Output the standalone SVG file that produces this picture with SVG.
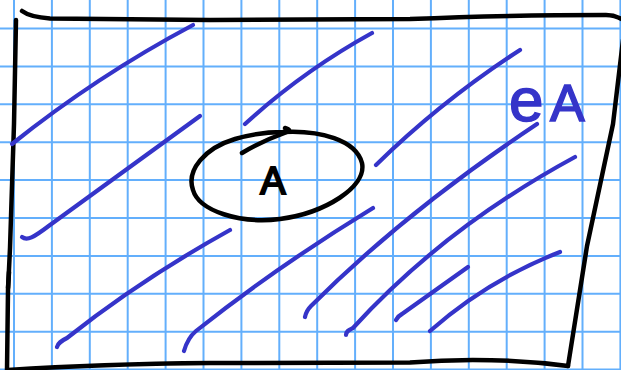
<svg xmlns="http://www.w3.org/2000/svg" width="621" height="370" viewBox="0 0 621 370">
<style>
.grid line{stroke:#63affc;stroke-width:2}
.hatch path{fill:none;stroke:#3534c9;stroke-width:4.2;stroke-linecap:round;stroke-linejoin:round}
.ink{fill:none;stroke:#000;stroke-width:4.5;stroke-linecap:round;stroke-linejoin:round}
.lbl{font-family:"Liberation Sans",Arial,sans-serif}
</style>
<rect width="621" height="370" fill="#fff"/>
<g id="grid" class="grid">
<line x1="0" y1="28.5" x2="621" y2="28.5"/>
<line x1="0" y1="66.4" x2="621" y2="66.4"/>
<line x1="0" y1="104.3" x2="621" y2="104.3"/>
<line x1="0" y1="142.2" x2="621" y2="142.2"/>
<line x1="0" y1="180.1" x2="621" y2="180.1"/>
<line x1="0" y1="218" x2="621" y2="218"/>
<line x1="0" y1="255.9" x2="621" y2="255.9"/>
<line x1="0" y1="293.8" x2="621" y2="293.8"/>
<line x1="0" y1="331.7" x2="621" y2="331.7"/>
<line x1="0" y1="369.6" x2="621" y2="369.6"/>
<line x1="14" y1="0" x2="14" y2="370"/>
<line x1="51.9" y1="0" x2="51.9" y2="370"/>
<line x1="89.8" y1="0" x2="89.8" y2="370"/>
<line x1="127.7" y1="0" x2="127.7" y2="370"/>
<line x1="165.6" y1="0" x2="165.6" y2="370"/>
<line x1="203.5" y1="0" x2="203.5" y2="370"/>
<line x1="241.4" y1="0" x2="241.4" y2="370"/>
<line x1="279.3" y1="0" x2="279.3" y2="370"/>
<line x1="317.2" y1="0" x2="317.2" y2="370"/>
<line x1="355.1" y1="0" x2="355.1" y2="370"/>
<line x1="393" y1="0" x2="393" y2="370"/>
<line x1="430.9" y1="0" x2="430.9" y2="370"/>
<line x1="468.8" y1="0" x2="468.8" y2="370"/>
<line x1="506.7" y1="0" x2="506.7" y2="370"/>
<line x1="544.6" y1="0" x2="544.6" y2="370"/>
<line x1="582.5" y1="0" x2="582.5" y2="370"/>
<line x1="620.4" y1="0" x2="620.4" y2="370"/>
</g>
<g id="frame">
<path class="ink" d="M22,11 Q30,17 50,18.5 L210,20 L410,19 Q500,15 606,15 Q616,15 625,21"/>
<path class="ink" d="M623,40 L613,124 L587,246 L568,366"/>
<path class="ink" d="M8,370 Q100,364 210,363 L410,362.5 Q490,356 568,366"/>
<path class="ink" d="M16,20 L14,124 L10,248 L8,290 L7,370"/>
<path class="ink" d="M9,272 L8,288" stroke-width="5.5"/>
</g>
<g id="hatch" class="hatch">
<path d="M12,144 Q97,76 193,25"/>
<path d="M22,237 C27,241 33,238 50,225 L200,116"/>
<path d="M245,124 Q303,71 372,33"/>
<path d="M376,165 Q442,100.5 520,50"/>
<path d="M57,347 C58,343 61,341 67,338 Q140,280 230,230"/>
<path d="M184,351 C186,344 190,336 196,331 Q275,268 373,208"/>
<path d="M305,317 C306,312 308,309 311,306 Q405,212 537,124"/>
<path d="M346,335 C346,331 349,330 353,328 Q444,228 575,157"/>
<path d="M396,320 Q398,316 402,314 L468,267"/>
<path d="M430,331 Q488,280 560,252"/>
</g>
<g id="node-A">
<path class="ink" d="M283,132 C320,130 356,140 362,163 C367,187 325,213 280,219 C240,224 199,211 193,190 C186,170 205,148 235,139 C255,133 270,132 283,132"/>
<path class="ink" d="M242,153 Q262,141 287,132 Q292,130 285,128"/>
<text class="lbl" x="273" y="194" font-size="38" text-anchor="middle" fill="#000" stroke="#000" stroke-width="2">A</text>
</g>
<g id="label-complement">
<text class="lbl" y="121" fill="#3534c9" stroke="#3534c9" stroke-width="1.5"><tspan x="509" font-size="62">e</tspan><tspan x="550" font-size="52">A</tspan></text>
</g>
</svg>
